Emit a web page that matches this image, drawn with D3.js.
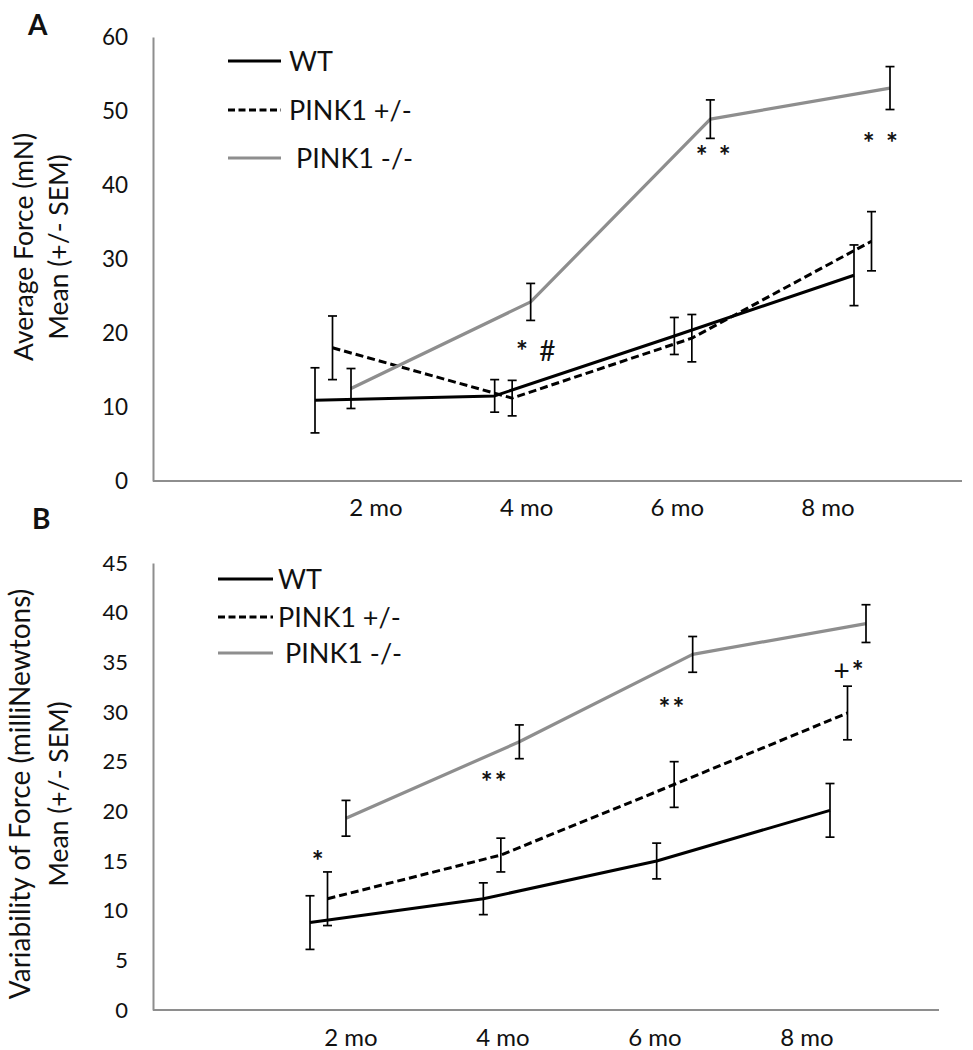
<!DOCTYPE html>
<html>
<head>
<meta charset="utf-8">
<script src="https://cdn.jsdelivr.net/npm/d3@7/dist/d3.min.js"></script>
<style>
  html, body { margin: 0; padding: 0; background: #fff; }
  svg { display: block; }
  text { font-family: Lato, "Liberation Sans", Arial, sans-serif; fill: #111; }
</style>
</head>
<body>
<svg id="chart" width="973" height="1050"></svg>
<script>
// ---------------- DATA ----------------
const months = ["2 mo", "4 mo", "6 mo", "8 mo"];
const seriesNames = ["WT", "PINK1 +/-", "PINK1 -/-"];

// Panel A: Average Force (mN)
const forceWT   = [10.9, 11.5, 19.6, 27.8];
const forceHet  = [18.0, 11.2, 19.3, 32.4];
const forceKO   = [12.5, 24.2, 48.9, 53.1];
const forceWTsem  = [4.4, 2.2, 2.5, 4.1];
const forceHetsem = [4.3, 2.4, 3.2, 4.0];
const forceKOsem  = [2.7, 2.5, 2.6, 2.9];
const ticksA = [0, 10, 20, 30, 40, 50, 60];

// Panel B: Variability of Force (milliNewtons)
const varWT   = [8.8, 11.2, 15.0, 20.1];
const varHet  = [11.2, 15.6, 22.7, 29.9];
const varKO   = [19.3, 27.0, 35.8, 38.9];
const varWTsem  = [2.7, 1.6, 1.8, 2.7];
const varHetsem = [2.7, 1.7, 2.3, 2.7];
const varKOsem  = [1.8, 1.7, 1.8, 1.9];
const ticksB = [0, 5, 10, 15, 20, 25, 30, 35, 40, 45];

// significance marks: text, month position (index), value position (baseline)
const annotA = [
  { t: "* #", i: 1.119, v: 16.2 },
  { t: "* *", i: 2.119, v: 42.6 },
  { t: "* *", i: 3.049, v: 44.3 }
];
const annotB = [
  { t: "*",  i: 0.010, v: 14.0 },
  { t: "**", i: 0.985, v: 21.9 },
  { t: "**", i: 2.011, v: 29.4 },
  { t: "+*", i: 3.020, v: 33.1 }
];

// ---------------- LAYOUT / STYLE ----------------
const svg = d3.select("#chart");
const FONT = 'Lato, "Liberation Sans", Arial, sans-serif';
const MARKFONT = '"Liberation Sans", Arial, sans-serif';
const grey = "#8e8e8e";
const styles = [
  { stroke: "#000", dash: null, w: 3 },
  { stroke: "#000", dash: "8,4", w: 3 },
  { stroke: grey, dash: null, w: 3.2 }
];
const seriesOffsets = [0, 17.5, 36];

const panels = [
  {
    letter: "A", letterPos: [28, 35],
    axisX: 153, axisRight: 962,
    y: d3.scaleLinear().domain([0, 60]).range([481, 37]),
    ticks: ticksA, tickSize: 22.5,
    xPts: d3.scaleLinear().domain([0, 3]).range([315, 854]),
    xLab: d3.scalePoint().domain(months).range([376, 828]),
    labBase: 516,
    series: [[forceWT, forceWTsem], [forceHet, forceHetsem], [forceKO, forceKOsem]],
    title: [
      { t: "Average Force (mN)", x: 33, size: 26.5 },
      { t: "Mean (+/- SEM)", x: 68, size: 26.5 }
    ],
    titleCenter: 247,
    legend: { x1: 228, x2: 281, tx: 289, ys: [61, 110, 158], size: 27, dx3: 7 },
    annot: annotA
  },
  {
    letter: "B", letterPos: [32, 529],
    axisX: 153, axisRight: 939,
    y: d3.scaleLinear().domain([0, 45]).range([1010, 563]),
    ticks: ticksB, tickSize: 22,
    xPts: d3.scaleLinear().domain([0, 3]).range([310, 830]),
    xLab: d3.scalePoint().domain(months).range([351, 807]),
    labBase: 1046,
    series: [[varWT, varWTsem], [varHet, varHetsem], [varKO, varKOsem]],
    title: [
      { t: "Variability of Force (milliNewtons)", x: 30, size: 28 },
      { t: "Mean (+/- SEM)", x: 68, size: 26.5 }
    ],
    titleCenter: 794,
    legend: { x1: 218, x2: 273, tx: 278, ys: [579, 617, 653], size: 27, dx3: 7 },
    annot: annotB
  }
];

panels.forEach(p => {
  const g = svg.append("g");
  const y0 = p.y(0);

  // panel letter
  g.append("text").attr("x", p.letterPos[0]).attr("y", p.letterPos[1])
    .attr("font-size", 28).attr("font-weight", "bold").text(p.letter);

  // y axis
  const yAxis = d3.axisLeft(p.y).tickValues(p.ticks).tickSize(0).tickPadding(25)
    .tickFormat(d3.format("d"));
  const ya = g.append("g").attr("transform", `translate(${p.axisX},0)`).call(yAxis);
  ya.select(".domain").attr("stroke", grey).attr("stroke-width", 2);
  ya.selectAll(".tick text").attr("font-size", p.tickSize)
    .attr("font-family", FONT).attr("fill", "#111");

  // x axis line
  g.append("line").attr("x1", p.axisX).attr("x2", p.axisRight)
    .attr("y1", y0).attr("y2", y0).attr("stroke", grey).attr("stroke-width", 2);

  // x labels
  g.selectAll(".xl").data(months).enter().append("text")
    .attr("x", d => p.xLab(d)).attr("y", p.labBase)
    .attr("text-anchor", "middle").attr("font-size", 24).text(d => d);

  // y title
  p.title.forEach(tt => {
    g.append("text")
      .attr("transform", `translate(${tt.x},${p.titleCenter}) rotate(-90)`)
      .attr("text-anchor", "middle").attr("font-size", tt.size).text(tt.t);
  });

  // series lines
  p.series.forEach((s, si) => {
    const vals = s[0];
    const line = d3.line()
      .x((d, i) => p.xPts(i) + seriesOffsets[si])
      .y(d => p.y(d));
    g.append("path").datum(vals).attr("d", line)
      .attr("fill", "none").attr("stroke", styles[si].stroke)
      .attr("stroke-width", styles[si].w)
      .attr("stroke-dasharray", styles[si].dash)
      .attr("stroke-linejoin", "round");
  });

  // error bars
  p.series.forEach((s, si) => {
    const vals = s[0], errs = s[1];
    vals.forEach((v, i) => {
      const x = p.xPts(i) + seriesOffsets[si];
      const yt = p.y(v + errs[i]), yb = p.y(v - errs[i]);
      const eg = g.append("g").attr("stroke", "#000").attr("stroke-width", 1.7);
      eg.append("line").attr("x1", x).attr("x2", x).attr("y1", yt).attr("y2", yb);
      eg.append("line").attr("x1", x - 4.5).attr("x2", x + 4.5).attr("y1", yt).attr("y2", yt);
      eg.append("line").attr("x1", x - 4.5).attr("x2", x + 4.5).attr("y1", yb).attr("y2", yb);
    });
  });

  // annotations (asterisks heavier, like the reference)
  p.annot.forEach(a => {
    const t = g.append("text").attr("x", p.xPts(a.i)).attr("y", p.y(a.v))
      .attr("text-anchor", "start").attr("font-size", 28)
      .attr("font-family", MARKFONT)
      .attr("letter-spacing", 2)
      .style("white-space", "pre");
    Array.from(a.t).forEach(ch => {
      t.append("tspan").attr("font-weight", ch === "*" ? "bold" : "normal").text(ch);
    });
  });

  // legend
  const L = p.legend;
  seriesNames.forEach((name, si) => {
    const ly = L.ys[si];
    g.append("line").attr("x1", L.x1).attr("x2", L.x2).attr("y1", ly).attr("y2", ly)
      .attr("stroke", styles[si].stroke).attr("stroke-width", styles[si].w)
      .attr("stroke-dasharray", si === 1 ? "7,3.5" : null);
    g.append("text").attr("x", L.tx + (si === 2 ? L.dx3 : 0)).attr("y", ly + 9.5)
      .attr("font-size", L.size).text(name);
  });
});
</script>
</body>
</html>
